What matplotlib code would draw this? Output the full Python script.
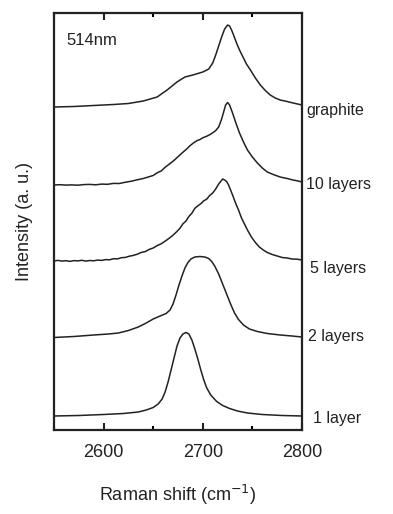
import numpy as np
import matplotlib.pyplot as plt
from matplotlib.ticker import MultipleLocator

plt.rcParams['font.family'] = ['Liberation Sans', 'DejaVu Sans']

# ------- data (offset intensities, a.u.) -------
wn_graphite = [2550, 2570, 2590, 2610, 2625, 2640, 2654, 2664, 2674, 2682, 2690, 2700, 2706,
               2710, 2713, 2716, 2719, 2722, 2725, 2727, 2729, 2731, 2734, 2737, 2741, 2744,
               2748, 2753, 2758, 2763, 2768, 2773, 2778, 2785, 2791, 2800]
i_graphite = [323, 323.5, 324.5, 325.5, 326.5, 329, 333, 340, 348, 353, 355, 358, 361,
              367, 375, 384, 393, 401, 405, 404, 400, 395, 387, 380, 372, 366,
              360, 352, 345, 339.5, 335, 332, 330, 328.5, 327, 325]

wn_10 = [2550, 2556, 2562, 2568, 2574, 2580, 2586, 2592, 2598, 2604, 2610, 2616, 2622, 2628,
         2634, 2640, 2646, 2650, 2654, 2658, 2662, 2667, 2671, 2675, 2680, 2684, 2687, 2690,
         2694, 2697, 2700, 2704, 2707, 2710, 2713, 2716, 2719, 2721, 2723, 2725, 2727, 2730,
         2733, 2737, 2741, 2745, 2750, 2755, 2760, 2765, 2771, 2778, 2785, 2791, 2796, 2800]
i_10 = [245, 245.3, 244.9, 245.1, 244.8, 245.4, 245.6, 245.2, 245.9, 245.7, 246.6, 246.5, 247.8, 248.8,
        250.2, 251.5, 253.3, 254.5, 257.2, 259, 262.7, 266.5, 269.6, 273.3, 277.8, 281.2, 284.2, 286.6,
        289.3, 290.4, 292.2, 293.8, 295.3, 297.2, 299.4, 303, 311, 318, 325, 327.5, 325, 317,
        308, 297, 288, 280, 273, 267, 262, 258, 255.5, 253, 251.5, 250, 249, 248]

wn_5 = [2550, 2554, 2558, 2562, 2566, 2570, 2574, 2578, 2582, 2586, 2590, 2594, 2598, 2602,
        2606, 2610, 2614, 2618, 2622, 2626, 2630, 2634, 2638, 2642, 2646, 2650, 2654, 2658,
        2662, 2666, 2670, 2674, 2677, 2680, 2683, 2686, 2689, 2692, 2695, 2698, 2701, 2704,
        2707, 2710, 2713, 2716, 2718, 2720, 2722, 2724, 2726, 2728, 2730, 2733, 2736, 2739,
        2742, 2745, 2749, 2753, 2757, 2761, 2765, 2770, 2775, 2780, 2785, 2790, 2795, 2800]
i_5 = [169, 169.6, 168.9, 169.3, 168.6, 169.4, 169.1, 169.7, 168.9, 169.5, 169.2, 169.9, 169.6, 170.4,
       170.2, 171.3, 171.1, 172.3, 172.6, 173.8, 174.6, 175.8, 177.6, 178.4, 180.6, 182, 184.4, 186.2,
       188.8, 191.7, 194.8, 198.6, 201.8, 206.2, 208.9, 213.6, 216.8, 221.7, 224.2, 226.3, 229.2, 230.9,
       234.6, 237, 241, 246, 248.5, 251, 250, 248.5, 245, 240, 235, 227, 220, 212,
       206, 200, 193, 187.5, 183, 180, 177.5, 175.5, 174, 172.5, 172, 171, 170.8, 170]

wn_2 = [2550, 2570, 2590, 2605, 2615, 2625, 2635, 2643, 2650, 2657, 2663, 2667, 2670, 2673,
        2676, 2679, 2682, 2685, 2688, 2692, 2697, 2702, 2706, 2709, 2712, 2716, 2720, 2724,
        2728, 2732, 2736, 2741, 2747, 2755, 2765, 2778, 2790, 2800]
i_2 = [92.5, 93.5, 95, 96, 97, 99.5, 103, 107, 111, 114, 116.5, 120, 126, 135,
       145, 154, 162, 167.5, 171, 173, 173.5, 173, 171.5, 168.5, 164, 156, 146, 136,
       126, 117, 110.5, 105, 101, 98.5, 96.5, 95, 94, 93]

wn_1 = [2550, 2575, 2600, 2620, 2635, 2643, 2650, 2655, 2659, 2662, 2665, 2668, 2671, 2674,
        2677, 2680, 2683, 2686, 2689, 2692, 2695, 2698, 2701, 2704, 2708, 2714, 2720, 2727,
        2735, 2745, 2760, 2780, 2800]
i_1 = [14, 14.5, 15.5, 16.5, 18, 20, 22.5, 26, 31, 38, 48, 60, 72, 84,
       92, 96, 97.5, 96, 90, 81, 71, 60, 50, 42, 35, 28.5, 24.5, 21.5,
       19, 17, 15.5, 14.5, 14]

labels = ['graphite', '10 layers', '5 layers', '2 layers', '1 layer']
label_y = [320, 246, 162, 93, 12]
label_x = [306, 306, 310, 308, 313]

fig = plt.figure(figsize=(3.93, 5.14), dpi=100)
ax = fig.add_axes([54 / 393, 1 - 430 / 514, 248 / 393, 417 / 514])

for wn, inten in [(wn_graphite, i_graphite), (wn_10, i_10), (wn_5, i_5), (wn_2, i_2), (wn_1, i_1)]:
    ax.plot(wn, inten, color='#222222', lw=1.1)

ax.set_xlim(2550, 2800)
ax.set_ylim(0, 417)
ax.xaxis.set_major_locator(MultipleLocator(100))
ax.xaxis.set_minor_locator(MultipleLocator(50))
ax.tick_params(axis='x', which='major', direction='in', top=True, length=5, width=1.5,
               labelsize=13, pad=10, colors='#222222')
ax.tick_params(axis='x', which='minor', direction='in', top=True, length=3, width=1.5)
ax.set_yticks([])
for s in ax.spines.values():
    s.set_linewidth(1.6)
    s.set_color('#222222')

ax.text(0.05, 0.935, '514nm', transform=ax.transAxes, fontsize=12, color='#222222',
        va='center', ha='left')

for lab, ly, lx in zip(labels, label_y, label_x):
    ax.annotate(lab, xy=(lx / 393, 0), xycoords=('figure fraction', 'data'),
                xytext=(0, ly), textcoords=('offset points', 'data'),
                fontsize=11.5, color='#222222', va='center', ha='left', annotation_clip=False)

ax.set_xlabel('Raman shift (cm$^{-1}$)', fontsize=13, labelpad=16, color='#222222')
ax.set_ylabel('Intensity (a. u.)', fontsize=13, labelpad=15, color='#222222')

fig.savefig('out.png', dpi=100)
